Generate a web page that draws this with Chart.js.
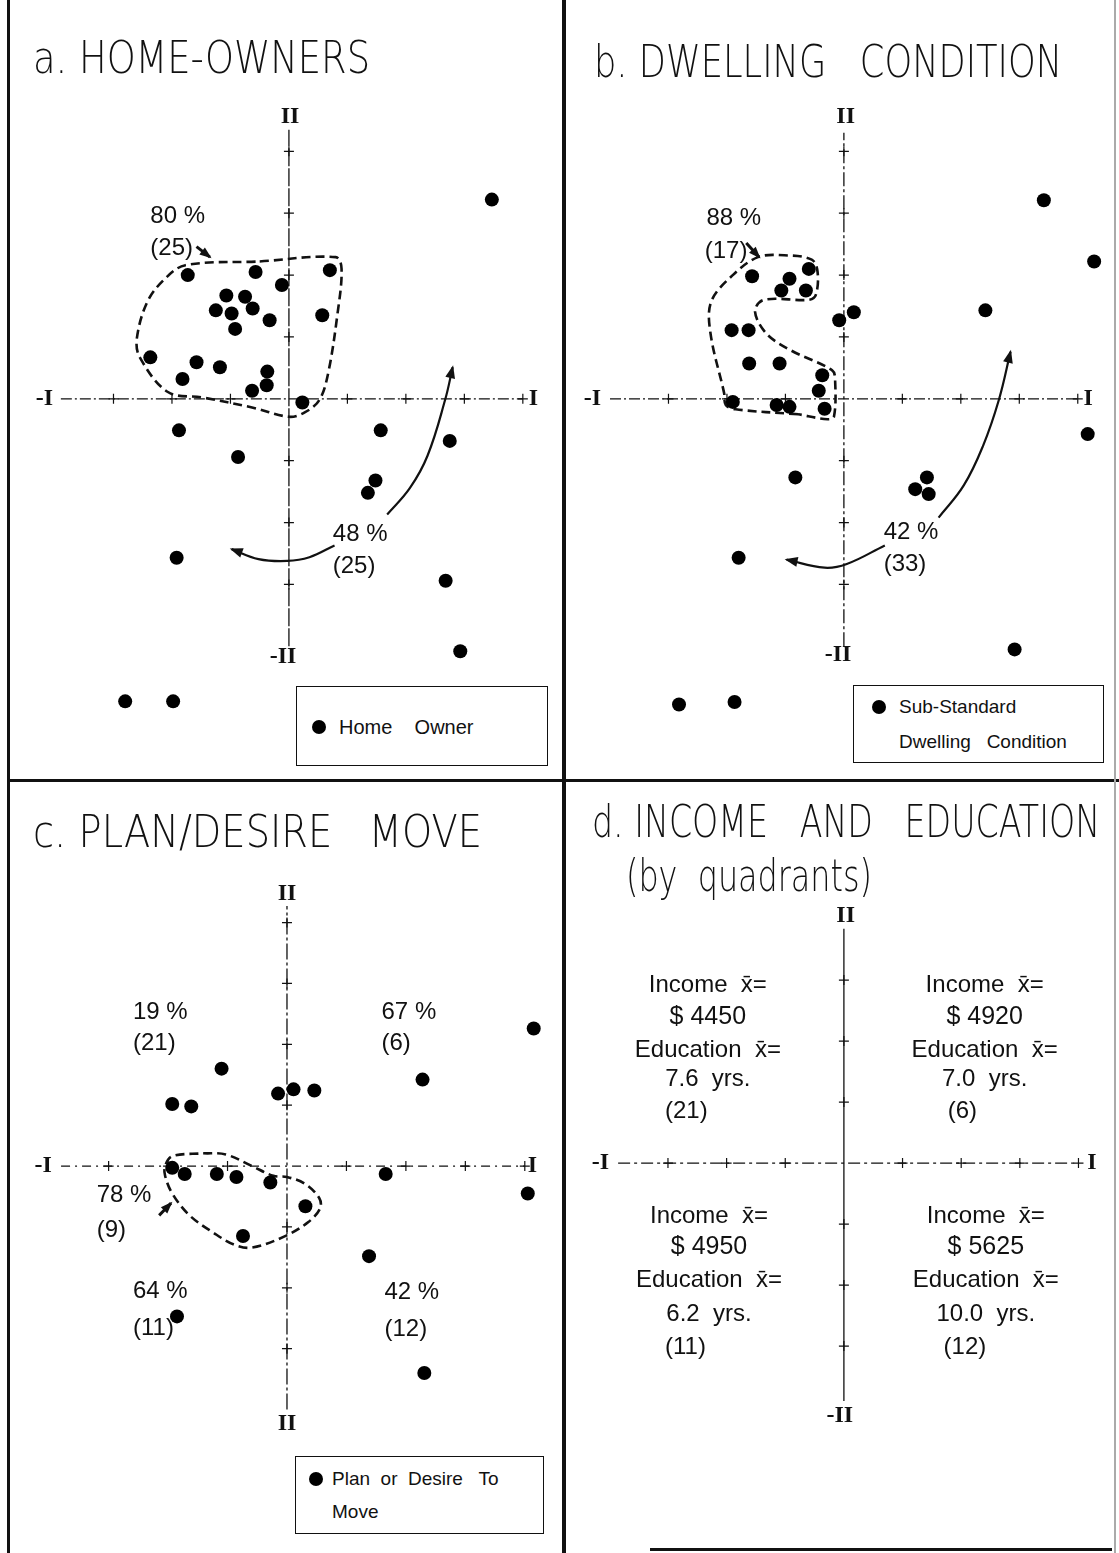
<!DOCTYPE html>
<html>
<head>
<meta charset="utf-8">
<script src="https://cdn.jsdelivr.net/npm/chart.js@4.4.1/dist/chart.umd.min.js"></script>
<style>
  body { margin: 0; background: #fff; width: 1119px; height: 1553px; position: relative; overflow: hidden;
         font-family: "Liberation Sans", "DejaVu Sans", sans-serif; color: #111; }
  canvas { position: absolute; }
  .rule { position: absolute; background: #111; }
  .title { position: absolute; white-space: pre; font-size: 44px; font-weight: 300; line-height: 1;
           transform-origin: 0 50%; font-family: "DejaVu Sans", sans-serif; }
  .legend { position: absolute; border: 1.5px solid #111; background: #fff; font-size: 20px; }
  .legend .row { position: absolute; white-space: pre; line-height: 1; }
  .legend .dot { position: absolute; width: 14px; height: 14px; border-radius: 50%; background: #000; }
</style>
</head>
<body>

<div class="rule" style="left:7px;top:0;width:3px;height:1553px"></div>
<div class="rule" style="left:562px;top:0;width:4px;height:1553px"></div>
<div class="rule" style="left:7px;top:779px;width:1112px;height:3px"></div>
<div class="rule" style="left:1114px;top:0;width:2px;height:1553px;background:#aaa"></div>
<div class="rule" style="left:650px;top:1548px;width:462px;height:3px"></div>

<canvas id="chartA" width="552" height="779" style="left:10px;top:0"></canvas>
<canvas id="chartB" width="548" height="779" style="left:566px;top:0"></canvas>
<canvas id="chartC" width="552" height="771" style="left:10px;top:782px"></canvas>
<canvas id="chartD" width="548" height="771" style="left:566px;top:782px"></canvas>

<div class="title" data-w="337" style="left:33px;top:36px">a. HOME-OWNERS</div>
<div class="title" data-w="468" style="left:594px;top:40px">b. DWELLING   CONDITION</div>
<div class="title" data-w="449" style="left:33px;top:810px">c. PLAN/DESIRE   MOVE</div>
<div class="title" data-w="508" style="left:592px;top:800px">d. INCOME   AND   EDUCATION</div>
<div class="title" data-w="246" style="left:626px;top:854px">(by  quadrants)</div>

<div class="legend" style="left:296px;top:686px;width:250px;height:78px">
  <div class="dot" style="left:15px;top:33px"></div>
  <div class="row" style="left:42px;top:30px">Home    Owner</div>
</div>
<div class="legend" style="left:853px;top:685px;width:249px;height:76px">
  <div class="dot" style="left:18px;top:14px"></div>
  <div class="row" style="left:45px;top:11px;font-size:19px">Sub-Standard</div>
  <div class="row" style="left:45px;top:46px;font-size:19px">Dwelling   Condition</div>
</div>
<div class="legend" style="left:295px;top:1456px;width:247px;height:76px">
  <div class="dot" style="left:13px;top:15px"></div>
  <div class="row" style="left:36px;top:12px;font-size:19px">Plan  or  Desire   To</div>
  <div class="row" style="left:36px;top:45px;font-size:19px">Move</div>
</div>

<script>
// ---- data (axis units: I horizontal, II vertical) ----
const homeOwners = [
  [3.47, 3.22], [-1.73, 2.0], [-0.57, 2.05], [-0.12, 1.84], [0.70, 2.08], [-1.07, 1.67], [-0.75, 1.65],
  [-1.25, 1.43], [-0.98, 1.38], [-0.62, 1.46], [-0.33, 1.27], [-0.92, 1.13], [0.57, 1.35],
  [-2.37, 0.67], [-1.58, 0.59], [-1.18, 0.51], [-1.82, 0.32], [-0.37, 0.44], [-0.38, 0.22], [-0.63, 0.13],
  [0.23, -0.06], [-1.88, -0.51], [-0.87, -0.94], [1.57, -0.51], [2.75, -0.68], [1.48, -1.32], [1.35, -1.52],
  [-1.92, -2.57], [2.68, -2.94], [2.93, -4.08], [-2.80, -4.89], [-1.98, -4.89]
];
const subStandard = [
  [3.42, 3.21], [4.28, 2.22], [2.42, 1.43], [0.17, 1.40], [-0.08, 1.27], [-1.57, 1.98], [-0.93, 1.94],
  [-0.60, 2.10], [-1.07, 1.75], [-0.65, 1.75], [-1.92, 1.11], [-1.63, 1.11], [-1.62, 0.57], [-1.10, 0.57],
  [-0.37, 0.38], [-0.43, 0.13], [-1.90, -0.05], [-1.15, -0.10], [-0.93, -0.13], [-0.33, -0.16],
  [4.17, -0.57], [-0.83, -1.27], [1.42, -1.27], [1.22, -1.46], [1.45, -1.54], [-1.80, -2.57],
  [2.92, -4.05], [-2.82, -4.94], [-1.87, -4.90]
];
const planMove = [
  [4.15, 2.26], [2.28, 1.42], [-1.10, 1.60], [-1.93, 1.02], [-1.61, 0.98], [-0.15, 1.19], [0.11, 1.26],
  [0.46, 1.24], [-1.93, -0.03], [-1.72, -0.13], [-1.18, -0.13], [-0.85, -0.18], [-0.28, -0.27],
  [1.66, -0.13], [4.05, -0.45], [0.31, -0.66], [-0.74, -1.15], [1.38, -1.48], [-1.85, -2.47], [2.31, -3.40]
];

// dashed cluster outlines
const homeOwnerCluster = [
  [-0.5, 2.22], [0.80, 2.29], [0.90, 2.10], [0.83, 1.37], [0.67, 0.41], [0.52, -0.02], [0.27, -0.22],
  [0.0, -0.29], [-0.63, -0.14], [-1.47, 0.02], [-2.07, 0.11], [-2.55, 0.67], [-2.60, 0.98], [-2.42, 1.57],
  [-2.12, 1.94], [-1.77, 2.16], [-0.5, 2.22]
];
const dwellingCluster = [
  [-0.78, -0.25], [-1.85, -0.17], [-2.02, -0.10], [-2.05, 0.10], [-2.28, 1.05], [-2.27, 1.57], [-1.90, 2.0],
  [-1.47, 2.29], [-1.02, 2.32], [-0.55, 2.25], [-0.45, 2.05], [-0.48, 1.68], [-0.60, 1.60], [-1.37, 1.60],
  [-1.52, 1.41], [-1.32, 1.05], [-0.90, 0.78], [-0.20, 0.46], [-0.15, 0.30], [-0.17, -0.29], [-0.28, -0.33],
  [-0.78, -0.25]
];
const moveCluster = [
  [-1.41, 0.21], [-1.03, 0.19], [-0.59, 0.0], [-0.23, -0.16], [0.0, -0.18], [0.30, -0.29], [0.54, -0.52],
  [0.56, -0.69], [0.36, -0.92], [-0.05, -1.16], [-0.59, -1.34], [-0.89, -1.29], [-1.23, -1.10],
  [-1.64, -0.81], [-1.93, -0.45], [-2.05, -0.16], [-2.05, 0.0], [-1.93, 0.16], [-1.41, 0.21]
];

// arrows
const homeArrowUp = [[1.68, -1.87], [2.07, -1.44], [2.37, -0.92], [2.67, -0.02], [2.8, 0.51]];
const homeArrowLeft = [[0.78, -2.37], [0.35, -2.56], [-0.03, -2.62], [-0.52, -2.59], [-0.98, -2.43]];
const homeArrowSmall = [[-1.58, 2.46], [-1.35, 2.29]];
const dwellArrowUp = [[1.62, -1.92], [2.05, -1.40], [2.38, -0.76], [2.65, -0.02], [2.85, 0.76]];
const dwellArrowLeft = [[0.70, -2.37], [0.05, -2.67], [-0.33, -2.73], [-0.98, -2.60]];
const dwellArrowSmall = [[-1.67, 2.52], [-1.45, 2.29]];
const moveArrowSmall = [[-2.15, -0.81], [-1.95, -0.61]];

// percentages and group sizes
const homePct = [80, 48], homeN = [25, 25];
const dwellPct = [88, 42], dwellN = [17, 33];
const movePct = [19, 67, 64, 42], movePctCluster = 78, moveNCluster = 9;
const quadrantCounts = [21, 6, 11, 12];       // II/-I, II/I, -II/-I, -II/I
const incomeMeans = [4450, 4920, 4950, 5625];
const educationMeans = [7.6, 7.0, 6.2, 10.0];

const unitTicks = [-3, -2, -1, 1, 2, 3, 4];
const dTicksY = [-3, -2, -1, 1, 2, 3];

// ---- drawing ----
const toXY = pts => pts.map(p => ({ x: p[0], y: p[1] }));
const INK = '#111';
const TXT = '24px "Liberation Sans", sans-serif';
const ROMAN = 'bold 24px "Liberation Serif", serif';

const marks = {
  id: 'marks',
  afterDatasetsDraw(chart, args, opts) {
    const c = chart.ctx, xs = chart.scales.x, ys = chart.scales.y;
    chart.data.datasets.forEach((ds, i) => {
      if (!ds.arrow) return;
      const pts = chart.getDatasetMeta(i).data;
      const end = pts[pts.length - 1];
      let prev = pts[pts.length - 2];
      if (end.cp1x !== undefined && Math.hypot(end.cp1x - end.x, end.cp1y - end.y) > 2) prev = { x: end.cp1x, y: end.cp1y };
      const a = Math.atan2(end.y - prev.y, end.x - prev.x), s = ds.arrow;
      c.save();
      c.fillStyle = INK;
      c.beginPath();
      c.moveTo(end.x + Math.cos(a) * 2, end.y + Math.sin(a) * 2);
      c.lineTo(end.x - Math.cos(a) * s + Math.sin(a) * s * 0.45, end.y - Math.sin(a) * s - Math.cos(a) * s * 0.45);
      c.lineTo(end.x - Math.cos(a) * s - Math.sin(a) * s * 0.45, end.y - Math.sin(a) * s + Math.cos(a) * s * 0.45);
      c.closePath();
      c.fill();
      c.restore();
    });
    c.save();
    c.fillStyle = INK;
    c.textBaseline = 'middle';
    (opts.texts || []).forEach(t => {
      c.font = t.font || TXT;
      c.textAlign = t.align || 'left';
      c.fillText(t.t, xs.getPixelForValue(t.x), ys.getPixelForValue(t.y));
    });
    c.restore();
  }
};

function lineSet(pts, extra) {
  return Object.assign({ data: toXY(pts), showLine: true, borderColor: INK, borderWidth: 1.3,
    pointRadius: 0, fill: false, tension: 0 }, extra);
}

function panel(id, o) {
  const sets = [];
  if (o.points) sets.push({ data: toXY(o.points), pointRadius: 7, backgroundColor: '#000', borderColor: '#000', borderWidth: 0 });
  (o.arrows || []).forEach(a => sets.push(lineSet(a.pts, { borderWidth: a.w || 2.2, tension: 0.4, arrow: a.head || 11 })));
  if (o.cluster) sets.push(lineSet(o.cluster, { borderWidth: 2.6, borderDash: [9, 5], tension: 0.35 }));
  sets.push(lineSet([[o.hAxis[0], 0], [o.hAxis[1], 0]], { borderDash: o.hDash }));
  sets.push(lineSet([[0, o.vAxis[0]], [0, o.vAxis[1]]], { borderDash: o.vDash }));
  sets.push({ data: o.xTicks.map(v => ({ x: v, y: 0 })).concat(o.yTicks.map(v => ({ x: 0, y: v }))),
    pointStyle: 'cross', pointRadius: 5, borderColor: INK, borderWidth: 1.2, backgroundColor: INK });

  const texts = o.roman.map(r => ({ t: r[0], x: r[1], y: r[2], font: ROMAN, align: 'center' })).concat(o.texts);

  new Chart(document.getElementById(id), {
    type: 'scatter',
    data: { datasets: sets },
    options: {
      responsive: false, animation: false, events: [],
      layout: { padding: 0 },
      plugins: { legend: { display: false }, tooltip: { enabled: false }, marks: { texts: texts } },
      scales: {
        x: { type: 'linear', display: false, min: o.xr[0], max: o.xr[1] },
        y: { type: 'linear', display: false, min: o.yr[0], max: o.yr[1] }
      }
    },
    plugins: [marks]
  });
}

const pct = v => v + ' %';
const cnt = v => '(' + v + ')';

panel('chartA', {
  xr: [-4.65, 4.55], yr: [-6.032, 6.333],
  points: homeOwners, cluster: homeOwnerCluster,
  arrows: [{ pts: homeArrowUp }, { pts: homeArrowLeft }, { pts: homeArrowSmall, w: 3, head: 10 }],
  hAxis: [-3.9, 4.0], vAxis: [-4.0, 4.35], hDash: [11, 3, 2, 3], vDash: [18, 2],
  xTicks: unitTicks, yTicks: unitTicks,
  roman: [['-I', -4.18, 0], ['I', 4.18, 0], ['II', 0.02, 4.56], ['-II', -0.1, -4.17]],
  texts: [
    { t: pct(homePct[0]), x: -2.37, y: 2.95 }, { t: cnt(homeN[0]), x: -2.37, y: 2.43 },
    { t: pct(homePct[1]), x: 0.75, y: -2.19 }, { t: cnt(homeN[1]), x: 0.75, y: -2.71 }
  ]
});

panel('chartB', {
  xr: [-4.633, 4.5], yr: [-6.032, 6.333],
  points: subStandard, cluster: dwellingCluster,
  arrows: [{ pts: dwellArrowUp }, { pts: dwellArrowLeft }, { pts: dwellArrowSmall, w: 3, head: 10 }],
  hAxis: [-4.0, 4.0], vAxis: [-4.0, 4.3], hDash: [11, 3, 2, 3], vDash: [14, 3, 3, 3],
  xTicks: unitTicks, yTicks: unitTicks,
  roman: [['-I', -4.3, 0], ['I', 4.18, 0], ['II', 0.03, 4.56], ['-II', -0.1, -4.14]],
  texts: [
    { t: pct(dwellPct[0]), x: -2.35, y: 2.92 }, { t: cnt(dwellN[0]), x: -2.38, y: 2.38 },
    { t: pct(dwellPct[1]), x: 0.68, y: -2.16 }, { t: cnt(dwellN[1]), x: 0.68, y: -2.68 }
  ]
});

panel('chartC', {
  xr: [-4.541, 4.508], yr: [-6.242, 6.194],
  points: planMove, cluster: moveCluster,
  arrows: [{ pts: moveArrowSmall, w: 3, head: 10 }],
  hAxis: [-3.8, 4.0], vAxis: [-4.0, 4.27], hDash: [9, 5, 2, 5], vDash: [16, 3, 3, 3],
  xTicks: unitTicks, yTicks: unitTicks,
  roman: [['-I', -4.1, 0], ['I', 4.13, 0], ['II', 0, 4.48], ['II', 0, -4.23]],
  texts: [
    { t: pct(movePct[0]), x: -2.59, y: 2.53 }, { t: cnt(quadrantCounts[0]), x: -2.59, y: 2.02 },
    { t: pct(movePct[1]), x: 1.59, y: 2.53 }, { t: cnt(quadrantCounts[1]), x: 1.59, y: 2.02 },
    { t: pct(movePctCluster), x: -3.2, y: -0.48 }, { t: cnt(moveNCluster), x: -3.2, y: -1.06 },
    { t: pct(movePct[2]), x: -2.59, y: -2.06 }, { t: cnt(quadrantCounts[2]), x: -2.59, y: -2.66 },
    { t: pct(movePct[3]), x: 1.64, y: -2.08 }, { t: cnt(quadrantCounts[3]), x: 1.64, y: -2.68 }
  ]
});

// quadrant blocks for panel d: [centre x, count x, line rows]
const blockLayout = [
  { cx: -2.32, nx: -3.05, rows: [2.92, 2.39, 1.85, 1.37, 0.85] },
  { cx: 2.40, nx: 1.77, rows: [2.92, 2.39, 1.85, 1.37, 0.85] },
  { cx: -2.30, nx: -3.05, rows: [-0.87, -1.37, -1.92, -2.48, -3.02] },
  { cx: 2.42, nx: 1.70, rows: [-0.87, -1.37, -1.92, -2.48, -3.02] }
];
const dTexts = [];
blockLayout.forEach((b, i) => {
  dTexts.push({ t: 'Income  x\u0304=', x: b.cx, y: b.rows[0], align: 'center' });
  dTexts.push({ t: '$ ' + incomeMeans[i], x: b.cx, y: b.rows[1], align: 'center', font: '25px "Liberation Sans", sans-serif' });
  dTexts.push({ t: 'Education  x\u0304=', x: b.cx, y: b.rows[2], align: 'center' });
  dTexts.push({ t: educationMeans[i].toFixed(1) + '  yrs.', x: b.cx, y: b.rows[3], align: 'center' });
  dTexts.push({ t: cnt(quadrantCounts[i]), x: b.nx, y: b.rows[4] });
});

panel('chartD', {
  xr: [-4.633, 4.5], yr: [-6.29, 6.145],
  hAxis: [-3.85, 4.0], vAxis: [-3.9, 3.84], hDash: [12, 4, 3, 4], vDash: [],
  xTicks: unitTicks, yTicks: dTicksY,
  roman: [['-I', -4.15, 0], ['I', 4.23, 0], ['II', 0.03, 4.05], ['-II', -0.07, -4.15]],
  texts: dTexts
});

// squeeze titles to the hand-lettered widths
document.querySelectorAll('.title').forEach(el => {
  const w = el.getBoundingClientRect().width;
  el.style.transform = 'scaleX(' + (Number(el.dataset.w) / w) + ')';
});
</script>
</body>
</html>
